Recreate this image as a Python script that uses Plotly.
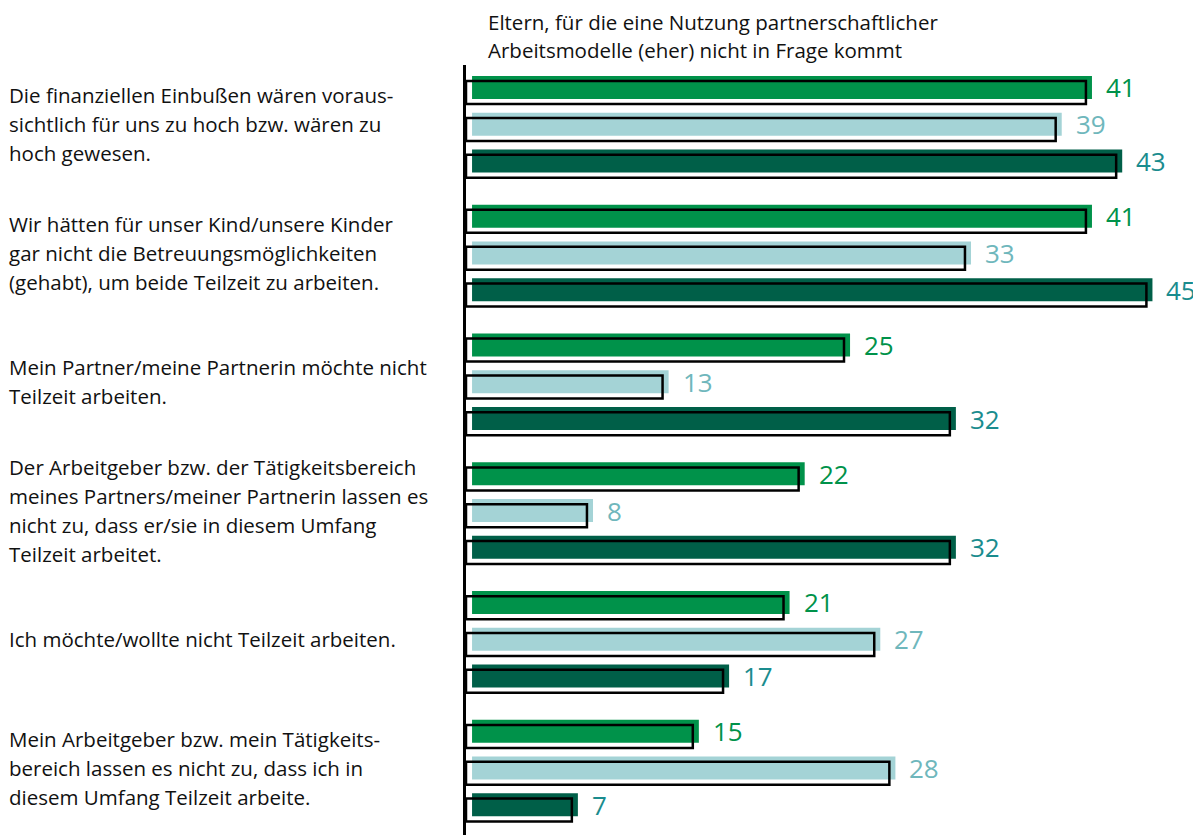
import plotly.graph_objects as go

# ─────────────────────────────────────────────
# Data

categories = [
    "Die finanziellen Einbußen wären voraus-<br>sichtlich für uns zu hoch bzw. wären zu<br>hoch gewesen.",
    "Wir hätten für unser Kind/unsere Kinder<br>gar nicht die Betreuungsmöglichkeiten<br>(gehabt), um beide Teilzeit zu arbeiten.",
    "Mein Partner/meine Partnerin möchte nicht<br>Teilzeit arbeiten.",
    "Der Arbeitgeber bzw. der Tätigkeitsbereich<br>meines Partners/meiner Partnerin lassen es<br>nicht zu, dass er/sie in diesem Umfang<br>Teilzeit arbeitet.",
    "Ich möchte/wollte nicht Teilzeit arbeiten.",
    "Mein Arbeitgeber bzw. mein Tätigkeits-<br>bereich lassen es nicht zu, dass ich in<br>diesem Umfang Teilzeit arbeite.",
]
series_a = [41, 41, 25, 22, 21, 15]
series_b = [39, 33, 13, 8, 27, 28]
series_c = [43, 45, 32, 32, 17, 7]

title = "Eltern, für die eine Nutzung partnerschaftlicher<br>Arbeitsmodelle (eher) nicht in Frage kommt"

# ─────────────────────────────────────────────
# Styling

fill_colors = ["#00924A", "#A4D3D6", "#005F48"]
text_colors = ["#00924A", "#6FB7BC", "#1A8C8E"]
FONT = "Open Sans"
LINE_H = 29

GROUP_STEP = 3.5
BAR_W = 0.625
OUT_SHIFT = 0.14
X0 = -0.4

# page body has an 8px margin -> shrink figure so it ends at the window edge
W, H = 1193, 827
ML, MT = 458, 57
PLOT_W = W - ML

fig = go.Figure()

all_series = [series_a, series_b, series_c]
for s, vals in enumerate(all_series):
    pos = [g * GROUP_STEP + s for g in range(len(vals))]
    fig.add_trace(go.Bar(
        orientation="h", x=vals, y=pos, width=BAR_W,
        marker=dict(color=fill_colors[s], line=dict(width=0)),
        showlegend=False, hoverinfo="skip",
    ))

# black outline "shadow" boxes on top
for s, vals in enumerate(all_series):
    pos = [g * GROUP_STEP + s + OUT_SHIFT for g in range(len(vals))]
    fig.add_trace(go.Bar(
        orientation="h", x=vals, y=pos, base=X0, width=BAR_W,
        marker=dict(color="rgba(0,0,0,0)", line=dict(color="black", width=2.5)),
        showlegend=False, hoverinfo="skip",
    ))

annotations = []
for s, vals in enumerate(all_series):
    for g, v in enumerate(vals):
        annotations.append(dict(
            x=v, y=g * GROUP_STEP + s, xref="x", yref="y",
            text=str(v), showarrow=False, xanchor="left", yanchor="middle",
            xshift=12, font=dict(family=FONT, size=26, color=text_colors[s]),
        ))

# category labels, one annotation per line for exact line spacing
for g, cat in enumerate(categories):
    lines = cat.split("<br>")
    n = len(lines)
    for k, ln in enumerate(lines):
        annotations.append(dict(
            x=-ML / PLOT_W, y=g * GROUP_STEP + 1, xref="paper", yref="y",
            text=ln, showarrow=False, xanchor="left", yanchor="middle",
            xshift=-1, yshift=-(k - (n - 1) / 2) * LINE_H,
            font=dict(family=FONT, size=20.5, color="#111111"),
        ))

for k, ln in enumerate(title.split("<br>")):
    annotations.append(dict(
        x=0, y=1, xref="paper", yref="paper", text=ln, showarrow=False,
        xanchor="left", yanchor="middle", xshift=20, yshift=43 - k * 28,
        font=dict(family=FONT, size=20.5, color="#111111"),
    ))

fig.update_layout(
    width=W, height=H,
    margin=dict(l=ML, r=0, t=MT, b=0),
    barmode="overlay",
    plot_bgcolor="white", paper_bgcolor="white",
    annotations=annotations,
    xaxis=dict(range=[X0, X0 + PLOT_W / 15.12], showgrid=False, zeroline=False,
               showticklabels=False, showline=False),
    yaxis=dict(range=[20.32, -0.61], showgrid=False, zeroline=False,
               showticklabels=False, showline=True, linecolor="black", linewidth=2.5),
)

fig.write_html("out.html")
